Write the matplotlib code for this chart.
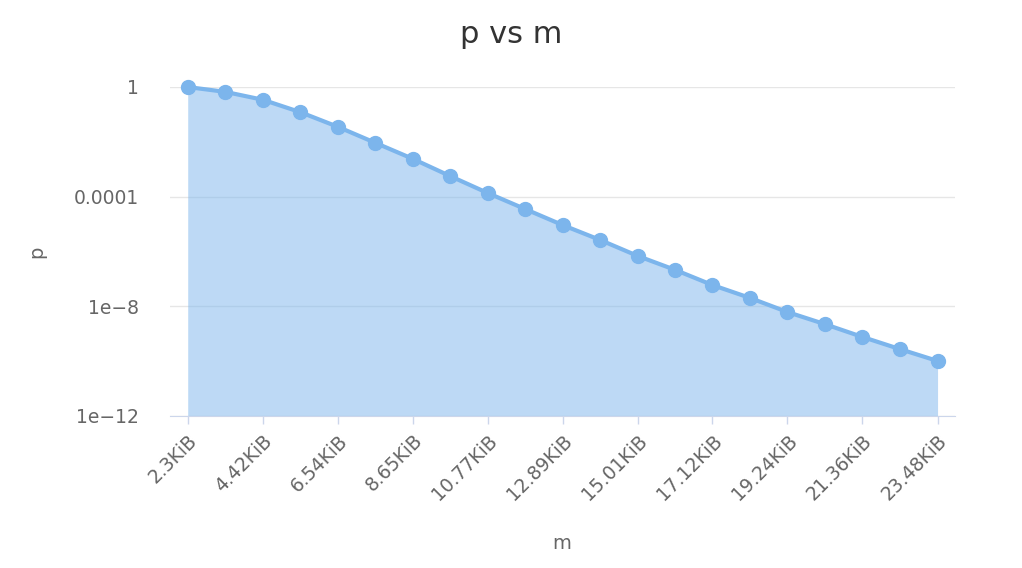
import matplotlib
matplotlib.use("Agg")
import matplotlib.pyplot as plt
from matplotlib.ticker import FixedLocator, FixedFormatter, NullLocator

# message size in KiB and probability
m_kib = [2.3, 3.36, 4.42, 5.48, 6.54, 7.6, 8.65, 9.71, 10.77, 11.83, 12.89,
         13.95, 15.01, 16.07, 17.12, 18.18, 19.24, 20.3, 21.36, 22.42, 23.48]
p_vals = [0.99, 0.66, 0.34, 0.12, 0.035, 0.0091, 0.0024, 5.6e-4, 1.35e-4, 3.5e-5,
          9.1e-6, 2.6e-6, 6.8e-7, 2.1e-7, 5.9e-8, 2.0e-8, 6.1e-9, 2.2e-9,
          7.5e-10, 2.7e-10, 1.0e-10]
x_tick_labels = ["2.3KiB", "4.42KiB", "6.54KiB", "8.65KiB", "10.77KiB", "12.89KiB",
                 "15.01KiB", "17.12KiB", "19.24KiB", "21.36KiB", "23.48KiB"]
y_ticks = [1e-12, 1e-8, 1e-4, 1]
y_tick_labels = ["1e\u221212", "1e\u22128", "0.0001", "1"]

line_color = "#7cb5ec"
plt.rcParams["font.family"] = ["DejaVu Sans"]

fig = plt.figure(figsize=(10.22, 5.68), dpi=100)
ax = fig.add_axes([0.166, 0.268, 0.768, 0.579])

ax.fill_between(m_kib, p_vals, 1e-12, color=line_color, alpha=0.5, linewidth=0)
ax.plot(m_kib, p_vals, color=line_color, linewidth=3, marker="o", markersize=10,
        clip_on=False, zorder=3)

ax.set_yscale("log")
ax.set_ylim(1e-12, 1)
ax.set_xlim(1.79, 23.96)

ax.yaxis.set_major_locator(FixedLocator(y_ticks))
ax.yaxis.set_major_formatter(FixedFormatter(y_tick_labels))
ax.yaxis.set_minor_locator(NullLocator())
ax.set_xticks(m_kib[::2])
ax.set_xticklabels(x_tick_labels, rotation=45, ha="right", rotation_mode="anchor")
ax.xaxis.set_minor_locator(NullLocator())

ax.grid(axis="y", color="#e6e6e6", linewidth=1)
ax.set_axisbelow(True)
for s in ["top", "right", "left"]:
    ax.spines[s].set_visible(False)
ax.spines["bottom"].set_color("#ccd6eb")
ax.tick_params(axis="x", which="both", colors="#ccd6eb", labelcolor="#666666",
               length=6, width=1, labelsize=13.5, pad=5)
ax.tick_params(axis="y", length=0, labelcolor="#666666", labelsize=13.5, pad=22)

ax.set_xlabel("m", fontsize=14, color="#666666", labelpad=22)
ax.set_ylabel("p", fontsize=14, color="#666666", labelpad=20)
fig.suptitle("p vs m", fontsize=22, color="#333333", y=0.965)

fig.savefig("out.png", dpi=100)
